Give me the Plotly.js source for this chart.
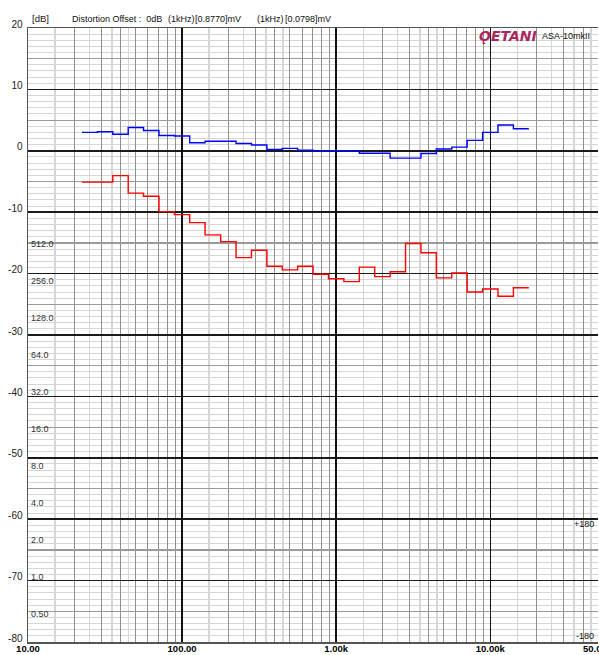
<!DOCTYPE html>
<html>
<head>
<meta charset="utf-8">
<script src="https://cdn.plot.ly/plotly-3.0.1.min.js"></script>
<style>html,body{margin:0;padding:0;background:#fff;}#chart{width:599px;height:655px;}</style>
</head>
<body>
<div id="chart"></div>
<script>
// ---- data ----
// 1/3-octave band edges (Hz)
const bandEdges = [22.4, 28.2, 35.5, 44.7, 56.2, 70.8, 89.1, 112, 141, 178, 224, 282, 355, 447, 562, 708, 891, 1122, 1413, 1778, 2239, 2818, 3548, 4467, 5623, 7079, 8913, 11220, 14125, 17783];
// blue series (dB), one value per band
const blueDb = [3.0, 3.1, 2.7, 3.8, 3.3, 2.5, 2.4, 1.3, 1.55, 1.55, 1.2, 0.95, 0.2, 0.4, 0.1, -0.1, 0.0, 0.0, -0.4, -0.4, -1.2, -1.2, -0.45, 0.3, 0.6, 1.7, 3.0, 4.2, 3.6];
// red series (dB), one value per band
const redDb = [-5.1, -5.1, -4.05, -6.9, -7.4, -9.9, -10.4, -11.7, -13.7, -14.8, -17.4, -16.2, -18.8, -19.4, -18.8, -20.1, -20.85, -21.3, -18.95, -20.5, -19.7, -15.1, -16.6, -20.7, -19.9, -23.0, -22.5, -23.7, -22.3];

// axis ticks
const xTickVals = [10, 100, 1000, 10000, 50000];
const xTickText = ['10.00', '100.00', '1.00k', '10.00k', '50.00k'];
const decadeLines = [100, 1000, 10000];
const xMidMultipliers = [2, 3, 4, 5, 6, 7, 8, 9];
const xHalfMultipliers = [1.5, 2.5, 3.5, 4.5];
const decadeBases = [10, 100, 1000, 10000];
const yTickVals = [20, 10, 0, -10, -20, -30, -40, -50, -60, -70, -80];
const yTickText = ['20', '10', '0', '-10', '-20', '-30', '-40', '-50', '-60', '-70', '-80'];
const yFiveVals = [15, 5, -5, -15, -25, -35, -45, -55, -65, -75];
const voltVals = [512, 256, 128, 64, 32, 16, 8, 4, 2, 1, 0.5];
const voltText = ['512.0', '256.0', '128.0', '64.0', '32.0', '16.0', '8.0', '4.0', '2.0', '1.0', '0.50'];

// ---- geometry ----
const W = 599, H = 655, L = 28, R = 1, T = 28, B = 13;
const plotW = W - L - R, plotH = H - T - B;
const px = p => (p - L) / plotW;
const py = p => (H - B - p) / plotH;
const xMax = 50000;

const xMid = [], xHalf = [];
decadeBases.forEach(d => {
  xMidMultipliers.forEach(m => { if (d * m < xMax) xMid.push(d * m); });
  xHalfMultipliers.forEach(m => { if (d * m < xMax) xHalf.push(d * m); });
});
const yMinor = [];
for (let v = -80; v <= 20; v++) yMinor.push(v);

// step traces: value held from each band's lower edge to the next edge
const stepY = arr => arr.concat([arr[arr.length - 1]]);

const FONT = 'Liberation Sans, Arial, sans-serif';
const xRange = [1, Math.log10(xMax)];
const yRange = [-80, 20];
// voltage scale: 512 sits at -15.2 dB, 6.02 dB per halving
const vRef = 512, vRefDb = -15.2;
const vRange = [Math.log10(vRef) + (yRange[0] - vRefDb) / 20, Math.log10(vRef) + (yRange[1] - vRefDb) / 20];

const traces = [
  {x: bandEdges, y: stepY(blueDb), type: 'scatter', mode: 'lines', line: {shape: 'hv', color: '#0000ff', width: 1.4}, hoverinfo: 'skip'},
  {x: bandEdges, y: stepY(redDb), type: 'scatter', mode: 'lines', line: {shape: 'hv', color: '#ff0000', width: 1.4}, hoverinfo: 'skip'},
  {x: [], y: [], xaxis: 'x2', yaxis: 'y', type: 'scatter', hoverinfo: 'skip'},
  {x: [], y: [], xaxis: 'x3', yaxis: 'y', type: 'scatter', hoverinfo: 'skip'},
  {x: [], y: [], xaxis: 'x', yaxis: 'y2', type: 'scatter', hoverinfo: 'skip'},
  {x: [], y: [], xaxis: 'x', yaxis: 'y3', type: 'scatter', hoverinfo: 'skip'}
];

const ann = (text, xp, yp, xanchor, size, extra) => Object.assign({
  text: text, xref: 'paper', yref: 'paper', x: px(xp), y: py(yp), xanchor: xanchor, yanchor: 'middle',
  showarrow: false, font: {family: FONT, size: size, color: '#111'}
}, extra || {});

const lastI = xTickVals.length - 1;
const annotations = [
  ann('[dB]', 30, 19, 'left', 9.5),
  ann('Distortion Offset :  0dB', 70, 19, 'left', 9),
  ann('(1kHz)', 166, 19, 'left', 9),
  ann('[0.8770]mV', 193, 19, 'left', 9),
  ann('(1kHz)', 255, 19, 'left', 9),
  ann('[0.0798]mV', 283, 19, 'left', 9),
  ann('<b><i>ǪETANI</i></b>', 539, 36, 'right', 14, {font: {family: 'DejaVu Sans, sans-serif', size: 14, color: '#a8285e'}}),
  ann('ASA-10mkII', 540, 36, 'left', 9),
  ann('+180', 596, 524, 'right', 9),
  ann('-180', 596, 636, 'right', 9),
  // edge label at the right end of the frequency axis (Plotly drops it from the axis)
  {text: xTickText[lastI], xref: 'x', yref: 'paper', x: Math.log10(xTickVals[lastI]), y: py(648), xanchor: 'center', yanchor: 'middle',
   showarrow: false, font: {family: FONT, size: 9.5, color: '#000', weight: 'bold'}}
];

const layout = {
  width: W, height: H,
  margin: {l: L, r: R, t: T, b: B, pad: 0},
  paper_bgcolor: '#ffffff', plot_bgcolor: '#ffffff',
  showlegend: false,
  font: {family: FONT, size: 10, color: '#111'},
  xaxis: {
    type: 'log', range: xRange, fixedrange: true,
    tickmode: 'array', tickvals: xMid, showticklabels: false, ticks: '',
    showgrid: true, gridcolor: '#8f8f8f', gridwidth: 1,
    minor: {tickmode: 'array', tickvals: xHalf, showgrid: true, gridcolor: '#d6d6d6', gridwidth: 1.5, ticks: ''},
    showline: true, linecolor: '#555', linewidth: 1.5, mirror: true, zeroline: false
  },
  xaxis2: {
    type: 'log', range: xRange, overlaying: 'x', anchor: 'y', side: 'bottom', fixedrange: true,
    tickmode: 'array', tickvals: decadeLines, showticklabels: false, ticks: '',
    showgrid: true, gridcolor: '#111', gridwidth: 1.5, showline: false, zeroline: false
  },
  xaxis3: {
    type: 'log', range: xRange, overlaying: 'x', anchor: 'free', position: 0.001, side: 'bottom', fixedrange: true,
    tickmode: 'array', tickvals: xTickVals.slice(0, lastI), ticktext: xTickText.slice(0, lastI), ticks: '',
    tickfont: {family: FONT, size: 9.5, color: '#000', weight: 'bold'},
    showgrid: false, showline: false, zeroline: false
  },
  yaxis: {
    range: yRange, fixedrange: true,
    tickmode: 'array', tickvals: yTickVals, ticktext: yTickText, ticks: '',
    tickfont: {family: FONT, size: 10, color: '#222'},
    ticklabelshift: -4, ticklabelstandoff: 2,
    showgrid: true, gridcolor: '#1a1a1a', gridwidth: 1.5,
    minor: {tickmode: 'array', tickvals: yMinor, showgrid: true, gridcolor: '#d6d6d6', gridwidth: 1, ticks: ''},
    showline: true, linecolor: '#555', linewidth: 1.5, zeroline: false
  },
  yaxis2: {
    range: yRange, overlaying: 'y', anchor: 'x', side: 'left', fixedrange: true,
    tickmode: 'array', tickvals: yFiveVals, showticklabels: false, ticks: '',
    showgrid: true, gridcolor: '#9a9a9a', gridwidth: 1.2, zeroline: false, showline: false
  },
  yaxis3: {
    type: 'log', range: vRange, overlaying: 'y', anchor: 'x', side: 'left', fixedrange: true,
    tickmode: 'array', tickvals: voltVals, ticktext: voltText, ticks: '',
    ticklabelposition: 'inside', ticklabelstandoff: 0,
    tickfont: {family: FONT, size: 9, color: '#333'},
    showgrid: false, zeroline: false, showline: false
  },
  annotations: annotations
};

Plotly.newPlot('chart', traces, layout, {displayModeBar: false, staticPlot: true});
</script>
</body>
</html>
